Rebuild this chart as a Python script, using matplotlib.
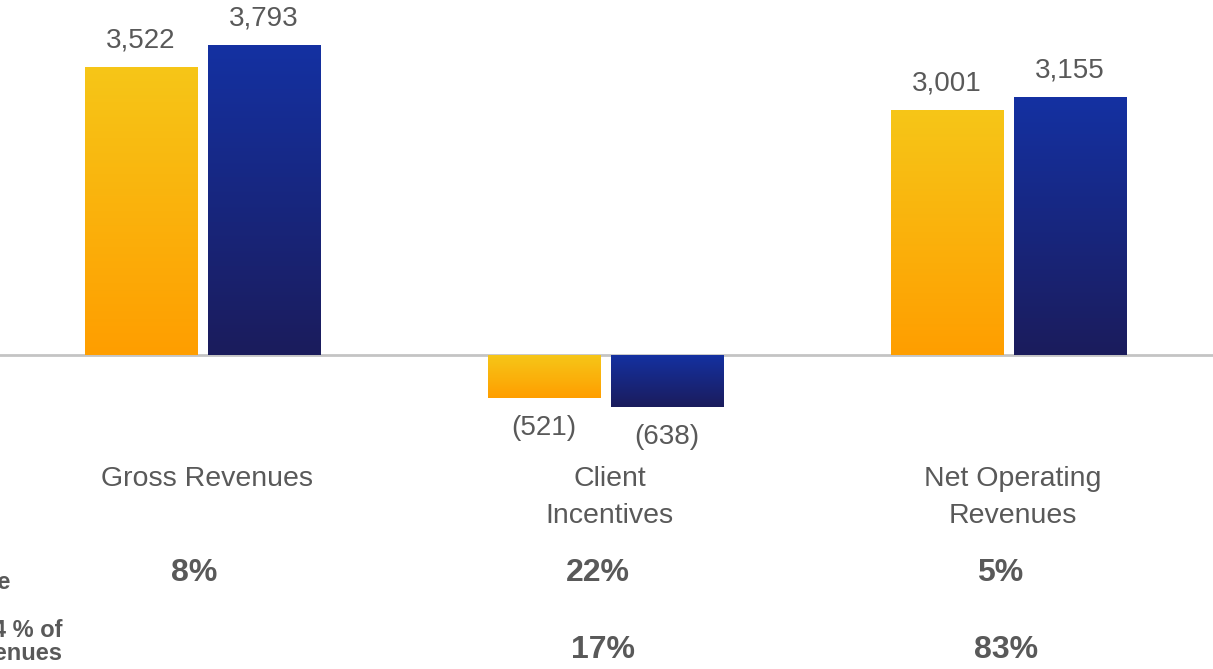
import numpy as np
import matplotlib.pyplot as plt
from matplotlib.colors import LinearSegmentedColormap

categories = ["Gross Revenues", "Client\nIncentives", "Net Operating\nRevenues"]
prior_year = [3522, -521, 3001]
current_year = [3793, -638, 3155]
prior_labels = ["3,522", "(521)", "3,001"]
current_labels = ["3,793", "(638)", "3,155"]
change_pct = ["8%", "22%", "5%"]
share_pct = ["", "17%", "83%"]

plt.rcParams['font.family'] = ['Liberation Sans', 'DejaVu Sans']
grey = "#595959"

fig = plt.figure(figsize=(12.13, 6.69), dpi=100)
ax = fig.add_axes([0, 0, 1, 1])
ax.set_xlim(-0.5025, 2.5074)
ax.set_ylim(-3840, 4341)
ax.axis("off")

x = np.arange(len(categories))
w = 0.278
off = 0.1526

yellow = LinearSegmentedColormap.from_list("y", ["#FF9E00", "#F6C618"])
blue = LinearSegmentedColormap.from_list("b", ["#1B1C5C", "#1431A2"])
grad = np.linspace(0, 1, 256).reshape(-1, 1)


def gradient_bars(bars, cmap):
    for b in bars:
        b.set_facecolor("none")
        b.set_edgecolor("none")
        x0, y0 = b.get_x(), b.get_y()
        x1, y1 = x0 + b.get_width(), y0 + b.get_height()
        lo, hi = min(y0, y1), max(y0, y1)
        im = ax.imshow(grad, cmap=cmap, origin="lower", aspect="auto",
                       extent=[x0, x1, lo, hi], zorder=2)
        im.set_clip_path(b)


b1 = ax.bar(x - off, prior_year, w, zorder=2)
b2 = ax.bar(x + off, current_year, w, zorder=2)
gradient_bars(b1, yellow)
gradient_bars(b2, blue)

ax.axhline(0, color="#C4C4C4", lw=2, zorder=1)

for i in range(len(categories)):
    for xx, v, lab in [(x[i] - off, prior_year[i], prior_labels[i]),
                       (x[i] + off, current_year[i], current_labels[i])]:
        if v >= 0:
            ax.text(xx, v + 325, lab, ha="center", va="center", fontsize=20, color=grey)
        else:
            ax.text(xx, v - 370, lab, ha="center", va="center", fontsize=20, color=grey)

    ax.text(x[i] + 0.01, -1360, categories[i], ha="center", va="top", fontsize=20.5,
            color=grey, linespacing=1.55)
    ax.text(x[i] - 0.02, -2666, change_pct[i], ha="center", va="center", fontsize=23,
            color=grey, fontweight="bold")
    ax.text(x[i] - 0.005, -3608, share_pct[i], ha="center", va="center", fontsize=23,
            color=grey, fontweight="bold")

# row labels, cut off by the left edge like in the original slide
ax.text(-0.4777, -2788, "% Change", ha="right", va="center", fontsize=17,
        color=grey, fontweight="bold")
ax.text(-0.3486, -3230, "FY2014 % of\nNet Revenues", ha="right", va="top",
        fontsize=17, color=grey, fontweight="bold", multialignment="right",
        linespacing=1.02)

fig.savefig("out.png", dpi=100)
